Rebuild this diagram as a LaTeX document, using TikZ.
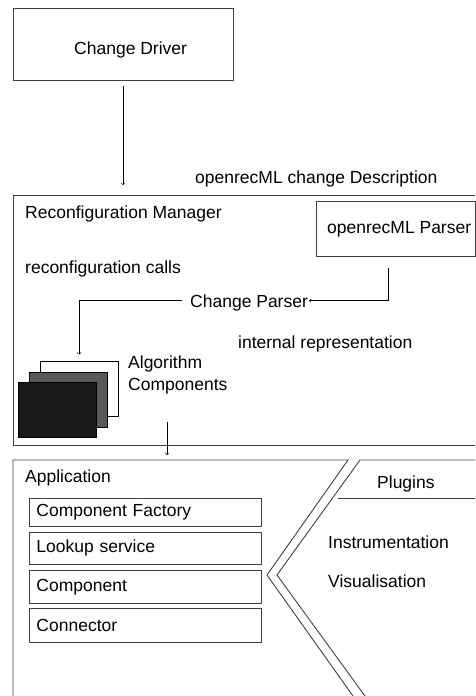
\documentclass[tikz,border=0pt]{standalone}
\usepackage{fontspec}
\setmainfont{Liberation Sans}
\begin{document}
\begin{tikzpicture}[x=1pt,y=-1pt,
  every node/.style={font=\fontsize{17.5}{21}\selectfont, inner sep=0pt},
  frame/.style={draw=black!75, line width=0.9pt},
  txt/.style={anchor=base west},
  part/.style={frame, anchor=north west, minimum width=232pt, text width=218pt, inner xsep=7pt, align=left},
  card/.style={draw=black, line width=0.8pt, minimum width=78pt, minimum height=55pt},
  conn/.style={->, line width=0.6pt}]

\useasboundingbox (0,0) rectangle (475,696);

% driver
\node[frame, minimum width=220pt, minimum height=72pt] (driver) at (123,44) {};
\node[txt] (drivertxt) at (74,54) {Change Driver};
\node[txt] (desc) at (195,183) {openrecML change Description};
\coordinate (mgrtop) at (123,195);
\draw[conn, shorten <=6pt, shorten >=10pt] (driver.south) -- (mgrtop);

% reconfiguration manager
\draw[frame] (475,195) -- (13,195) -- (13,445) -- (475,445);
\node[txt] (mgr) at (25,218) {Reconfiguration Manager};
\node[frame, minimum width=159.5pt, minimum height=55pt] (parser) at (395.75,228.5) {};
\node[txt] (parsertxt) at (327,233) {openrecML Parser};
\node[txt] (calls) at (25,273) {reconfiguration calls};
\node[txt, inner xsep=1pt, text depth=0pt] (chparser) at (189,307) {Change Parser};
\node[txt] (internal) at (238,348) {internal representation};

\node[card, fill=white] (algback) at (79,388.5) {};
\node[card, fill=black!65] (algmid) at (68,399.5) {};
\node[card, fill=black!90] (algfront) at (57,409.5) {};
\node[txt] (algtxt) at (128,368) {Algorithm};
\node[txt] (comptxt) at (128,390) {Components};

\draw[conn, shorten <=12pt] ([xshift=-7.75pt]parser.south) |- (chparser.east);
\draw[conn, shorten <=7pt, shorten >=6pt] (chparser.west) -| (algback.north);

% application and plugins
\coordinate (mgrout) at (167,422);
\coordinate (appin) at (167,455);
\draw[conn] (mgrout) -- (appin);
\draw[frame] (13,696) -- (13,460) -- (348,460) -- (267,575) -- (353,696);
\draw[frame] (475,460) -- (360,460) -- (277,575) -- (365,696);
\draw[frame] (338,498) -- (475,498);

\node[txt] (app) at (25,482) {Application};
\node[txt] (plugins) at (377,488) {Plugins};
\node[txt] (instr) at (328,548) {Instrumentation};
\node[txt] (visual) at (328,587) {Visualisation};

\node[part, minimum height=28pt] (factory) at (29,498) {Component Factory};
\node[part, minimum height=32pt] (lookup) at (29,532) {Lookup service};
\node[part, minimum height=33pt] (component) at (29,570) {Component};
\node[part, minimum height=34pt] (connector) at (29,608) {Connector};
\end{tikzpicture}
\end{document}
